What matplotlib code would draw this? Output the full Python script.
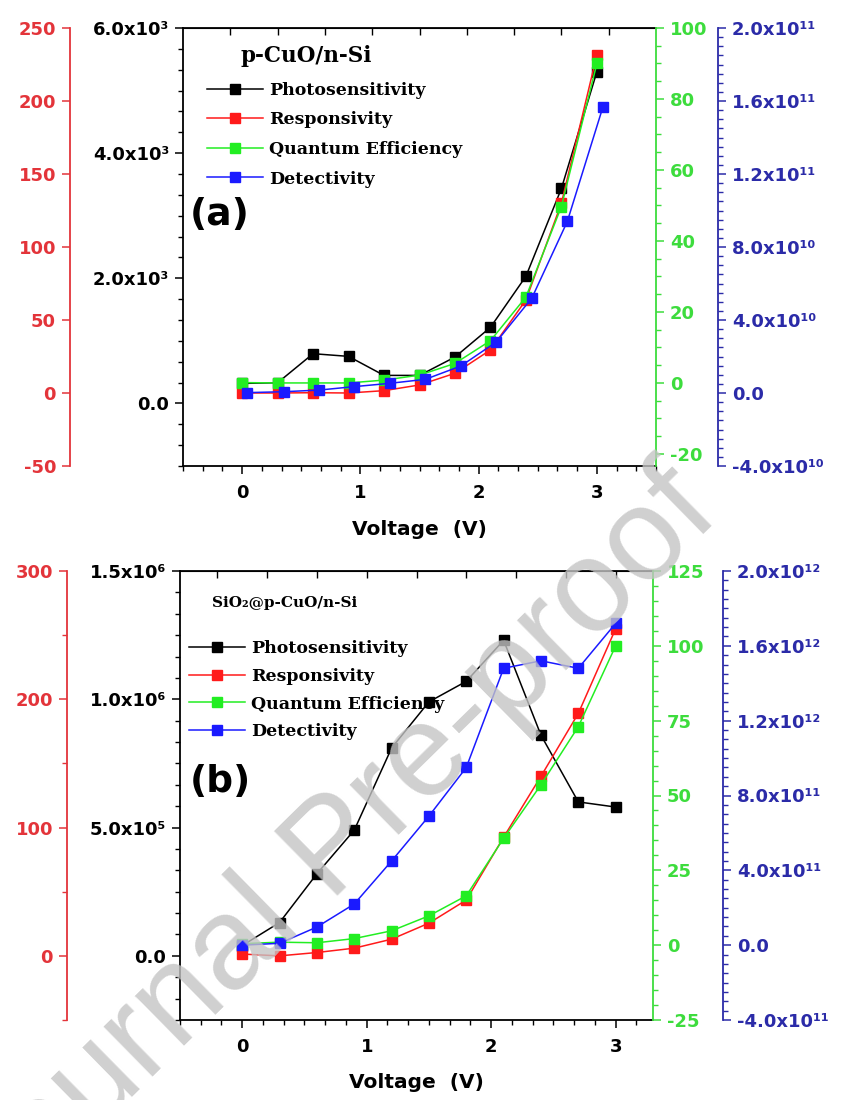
import numpy as np
import matplotlib
matplotlib.use("Agg")
import matplotlib.pyplot as plt
from matplotlib.lines import Line2D
from matplotlib.ticker import MultipleLocator, AutoMinorLocator, FuncFormatter

# ---- data ----
volt = [0.0, 0.3, 0.6, 0.9, 1.2, 1.5, 1.8, 2.1, 2.4, 2.7, 3.0]
volt_det_a = [0.04, 0.35, 0.65, 0.95, 1.25, 1.55, 1.85, 2.15, 2.45, 2.75, 3.05]

# (a) p-CuO/n-Si
photo_a = [320, 330, 795, 752, 448, 448, 741, 1216, 2032, 3435, 5300]
resp_a = [0.0, 0.0, 0.2, 0.0, 1.6, 5.5, 13.5, 29.5, 63.7, 130, 231.5]
qe_a = [0.1, 0.0, 0.0, 0.0, 0.8, 2.2, 5.5, 11.9, 24.2, 49.7, 90]
det_a = [0.2e9, 0.7e9, 1.6e9, 3.5e9, 5.3e9, 7.5e9, 14.8e9, 28e9, 52e9, 94e9, 156.5e9]

# (b) SiO2@p-CuO/n-Si
photo_b = [0.04e6, 0.13e6, 0.32e6, 0.49e6, 0.81e6, 0.99e6, 1.07e6, 1.23e6, 0.86e6, 0.60e6, 0.58e6]
resp_b = [1.4, 0.0, 2.6, 6.0, 13.0, 25.5, 43.5, 92.5, 140, 189, 255]
qe_b = [0.5, 1.0, 0.8, 2.2, 4.8, 9.8, 16.5, 35.7, 53.6, 73, 100]
det_b = [0.0, 0.01e12, 0.097e12, 0.22e12, 0.45e12, 0.69e12, 0.95e12, 1.48e12, 1.52e12, 1.48e12, 1.72e12]

names = ["Photosensitivity", "Responsivity", "Quantum Efficiency", "Detectivity"]

BLACK = "#000000"
RED_AX, RED_LN = "#e3343a", "#ff1a1a"
GREEN_AX, GREEN_LN = "#3ddc3d", "#22ee22"
BLUE_AX, BLUE_LN = "#2b2ba8", "#1a1aff"

SANS = "DejaVu Sans"
SERIF = ["DejaVu Serif", "DejaVu Sans"]
TICK_FS = 13

SUP = str.maketrans("0123456789-", "⁰¹²³⁴⁵⁶⁷⁸⁹⁻")


def sci(v, pos):
    if abs(v) < 1:
        return "0.0"
    e = int(np.floor(np.log10(abs(v)) + 1e-9))
    m = v / 10 ** e
    return f"{m:.1f}x10" + str(e).translate(SUP)


def plain(v, pos):
    return f"{v:g}"


def panel(rect, x, xd, ph, rs, qe, de, lims, majors, minors, xlim, red_pos, blue_pos,
          top_start, xlabelpad):
    ax = fig.add_axes(rect)
    red = ax.twinx()
    green = ax.twinx()
    blue = ax.twinx()

    ax.plot(x, ph, color=BLACK, marker="s", ms=6.5, lw=1.1, zorder=3)
    red.plot(x, rs, color=RED_LN, marker="s", ms=6.5, lw=1.1)
    green.plot(x, qe, color=GREEN_LN, marker="s", ms=6.5, lw=1.1)
    blue.plot(xd, de, color=BLUE_LN, marker="s", ms=6.5, lw=1.1)

    ax.set_xlim(*xlim)
    ax.xaxis.set_major_locator(MultipleLocator(1))
    ax.xaxis.set_minor_locator(AutoMinorLocator(6))
    ax.tick_params(axis="x", which="both", direction="out", top=False, colors=BLACK,
                   labelsize=TICK_FS, pad=7)
    ax.tick_params(axis="x", which="major", length=6, width=1.1)
    ax.tick_params(axis="x", which="minor", length=3.5, width=1.0)
    for lab in ax.get_xticklabels():
        lab.set_fontweight("bold")
    ax.set_xlabel("Voltage  (V)", fontsize=14.5, fontweight="bold", labelpad=xlabelpad)

    top = ax.secondary_xaxis("top")
    top.set_xticks(np.arange(top_start, xlim[1], 0.4))
    top.tick_params(direction="in", length=5, width=1.0, labeltop=False)

    specs = [
        (ax, "left", BLACK, lims[0], majors[0], minors[0], sci, 0.0),
        (red, "left", RED_AX, lims[1], majors[1], minors[1], plain, red_pos),
        (green, "right", GREEN_AX, lims[2], majors[2], minors[2], plain, 1.0),
        (blue, "right", BLUE_AX, lims[3], majors[3], minors[3], sci, blue_pos),
    ]
    for a, side, col, lim, maj, mnr, fmt, pos in specs:
        a.set_ylim(*lim)
        a.yaxis.set_major_locator(MultipleLocator(maj))
        if mnr > 1:
            a.yaxis.set_minor_locator(AutoMinorLocator(mnr))
        a.yaxis.set_major_formatter(FuncFormatter(fmt))
        a.yaxis.set_ticks_position(side)
        for s in a.spines.values():
            s.set_visible(False)
        sp = a.spines[side]
        sp.set_visible(True)
        sp.set_color(col)
        sp.set_linewidth(1.3)
        sp.set_position(("axes", pos))
        a.tick_params(axis="y", which="both", direction="out", colors=col,
                      labelsize=TICK_FS, pad=4)
        a.tick_params(axis="y", which="major", length=6, width=1.1)
        a.tick_params(axis="y", which="minor", length=3.5, width=1.0)
        for lab in a.get_yticklabels():
            lab.set_fontweight("bold")
            lab.set_color(col)
    for sname in ("top", "bottom"):
        ax.spines[sname].set_visible(True)
        ax.spines[sname].set_color(BLACK)
        ax.spines[sname].set_linewidth(1.3)
    ax.patch.set_visible(False)
    return ax


plt.rcParams["font.family"] = SANS
fig = plt.figure(figsize=(8.44, 11.0), dpi=100)
W, H = 844, 1100

# panel (a)
panel([183 / W, 1 - 466 / H, 473 / W, 438 / H], volt, volt_det_a,
      photo_a, resp_a, qe_a, det_a,
      lims=[(-1000, 6000), (-50, 250), (-23.4, 100), (-4e10, 2e11)],
      majors=[2000, 50, 20, 4e10], minors=[6, 1, 4, 8],
      xlim=(-0.5, 3.5), red_pos=-0.239, blue_pos=1.131, top_start=-0.1, xlabelpad=13)

# panel (b)
panel([180 / W, 1 - 1020 / H, 473 / W, 449 / H], volt, volt,
      photo_b, resp_b, qe_b, det_b,
      lims=[(-2.5e5, 1.5e6), (-50, 300), (-25, 125), (-4e11, 2e12)],
      majors=[5e5, 100, 25, 4e11], minors=[6, 2, 5, 8],
      xlim=(-0.5, 3.3), red_pos=-0.239, blue_pos=1.148, top_start=-0.2, xlabelpad=12)

handles = [Line2D([], [], color=c, marker="s", ms=6.5, lw=1.1)
           for c in (BLACK, RED_LN, GREEN_LN, BLUE_LN)]
leg_font = {"family": SERIF, "weight": "bold", "size": 12.5}
for x0, y0, sp in ((207, 82, 0.72), (189, 640, 0.62)):
    fig.legend(handles, names, loc="upper left", bbox_to_anchor=(x0 / W, 1 - y0 / H),
               frameon=False, prop=leg_font, handlelength=3.2, handletextpad=0.35,
               labelspacing=sp, borderpad=0, borderaxespad=0, numpoints=1)

fig.text(241 / W, 1 - 56 / H, "p-CuO/n-Si", family=SERIF, fontweight="bold",
         fontsize=15.5, ha="left", va="center")
fig.text(212 / W, 1 - 603 / H, "SiO₂@p-CuO/n-Si", family=SERIF, fontweight="bold",
         fontsize=11, ha="left", va="center")
fig.text(190 / W, 1 - 215 / H, "(a)", fontweight="bold", fontsize=27, ha="left", va="center")
fig.text(190 / W, 1 - 782 / H, "(b)", fontweight="bold", fontsize=27, ha="left", va="center")

# watermark
fig.text(335 / W, 1 - 850 / H, "Journal Pre-proof", family="Liberation Sans",
         fontsize=95, color="#c4c4c4", alpha=0.8, rotation=44.5,
         rotation_mode="anchor", ha="center", va="center", zorder=20)

fig.savefig("out.png", dpi=100)
